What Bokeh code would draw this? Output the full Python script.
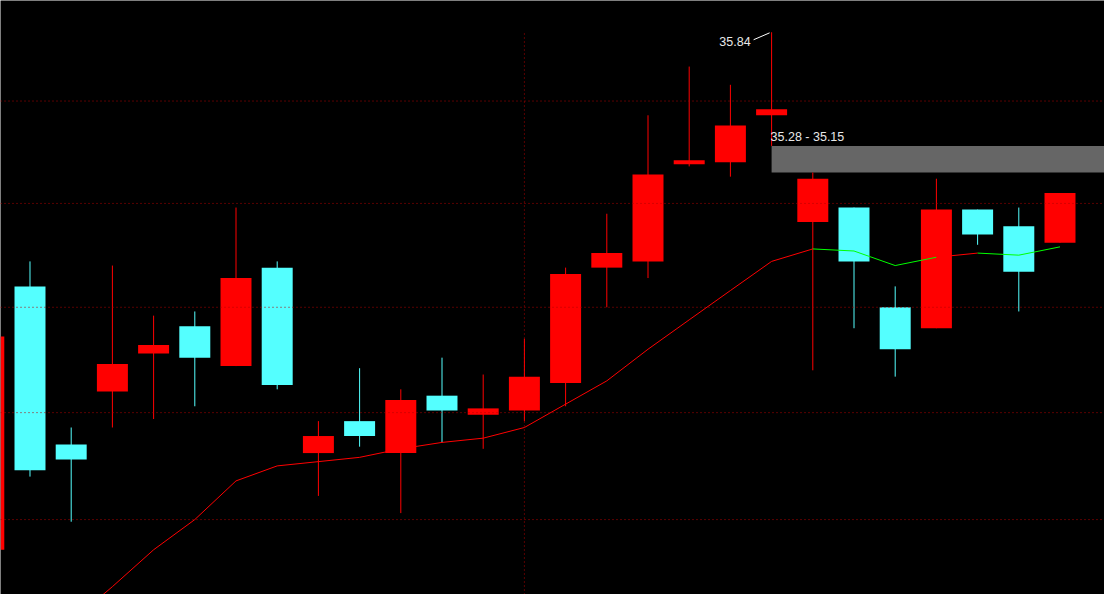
import math
from bokeh.plotting import figure
from bokeh.models import ColumnDataSource, Range1d, Span, LogScale
from bokeh.core.properties import value
from bokeh.embed import file_html
from bokeh.resources import INLINE

# ---- data (one candle per session) ----
opens = [33.36, 34.60, 33.85, 34.10, 34.28, 34.41, 34.22, 34.69, 33.81, 33.96,
         33.81, 34.08, 33.99, 34.01, 34.14, 34.69, 34.72, 35.19, 35.20, 35.43,
         34.91, 34.98, 34.50, 34.40, 34.97, 34.89, 34.81]
highs = [34.36, 34.72, 33.93, 34.70, 34.46, 34.48, 34.98, 34.72, 33.96, 34.21,
         34.11, 34.26, 34.18, 34.35, 34.69, 34.95, 35.43, 35.67, 35.58, 35.84,
         35.15, 34.98, 34.60, 35.12, 34.97, 34.98, 35.05]
lows = [33.36, 33.70, 33.49, 33.93, 33.97, 34.03, 34.22, 34.11, 33.61, 33.84,
        33.53, 33.86, 33.83, 33.96, 34.03, 34.50, 34.64, 35.18, 35.13, 35.28,
        34.20, 34.40, 34.17, 34.40, 34.80, 34.48, 34.81]
closes = [34.36, 33.73, 33.78, 34.23, 34.32, 34.26, 34.64, 34.13, 33.89, 33.89,
          34.06, 34.01, 34.02, 34.17, 34.66, 34.76, 35.14, 35.21, 35.38, 35.46,
          35.12, 34.72, 34.30, 34.97, 34.85, 34.67, 35.05]

# moving average line, starting at candle index 2
ma_start = 2
ma_values = [33.03, 33.19, 33.36, 33.50, 33.68, 33.75, 33.77, 33.79, 33.83, 33.86,
             33.88, 33.93, 34.04, 34.15, 34.30, 34.44, 34.58, 34.72, 34.78, 34.77,
             34.70, 34.74, 34.76, 34.75, 34.79]
# trend state of each MA segment (segment ending at point k, k = 1..)
ma_trend = ["up"] * 18 + ["down", "down", "down", "up", "down", "down"]

grid_levels = [35.5, 35.0, 34.5, 34.0, 33.5]
separator_index = 13

# ---- layout ----
W, H = 1104, 594
X0, X1 = 0.284, 27.080
Y0, Y1 = 33.154, 35.998
PX_X = W / (X1 - X0)
PX_LOG = H / math.log(Y1 / Y0)

UP = "#FF0000"
DOWN = "#54FFFF"
GRID = "#B00000"

n = len(opens)
idx = list(range(n))
colors = [UP if c >= o else DOWN for o, c in zip(opens, closes)]
body_lo = [min(o, c) for o, c in zip(opens, closes)]
body_hi = [max(o, c) for o, c in zip(opens, closes)]

p = figure(width=W, height=H, x_range=Range1d(X0, X1), y_range=Range1d(Y0, Y1),
           x_axis_location=None, y_axis_location=None, toolbar_location=None,
           output_backend="svg", min_border=0, background_fill_color="black",
           border_fill_color="black", outline_line_color=None)
p.y_scale = LogScale()
p.min_border_left = p.min_border_right = p.min_border_top = p.min_border_bottom = 0
p.xgrid.visible = False
p.ygrid.visible = False

for lvl in grid_levels:
    p.add_layout(Span(location=lvl, dimension="width", line_color=GRID,
                      line_dash="1 3", line_width=1))

hi_idx = max(idx, key=lambda i: highs[i])
p.segment(x0=[separator_index], y0=[Y0], x1=[separator_index], y1=[highs[hi_idx]],
          line_color=GRID, line_dash="1 3", line_width=1)

# gap band after the top candle
gap_top = lows[hi_idx]
gap_bottom = highs[hi_idx + 1]
p.quad(left=[hi_idx], right=[X1], bottom=[gap_bottom], top=[gap_top],
       fill_color="#666666", line_color=None)

src = ColumnDataSource(dict(x=idx, o=opens, h=highs, l=lows, c=closes,
                            lo=body_lo, hi=body_hi, color=colors))
p.segment(x0="x", y0="l", x1="x", y1="h", line_color="color", line_width=1, source=src)
p.vbar(x="x", width=0.752, bottom="lo", top="hi", fill_color="color",
       line_color=None, source=src)

# moving average segments
ma_x = list(range(ma_start, ma_start + len(ma_values)))
seg = ColumnDataSource(dict(
    x0=ma_x[:-1], y0=ma_values[:-1], x1=ma_x[1:], y1=ma_values[1:],
    color=["#FF0000" if t == "up" else "#00FF00" for t in ma_trend]))
p.segment(x0="x0", y0="y0", x1="x1", y1="y1", line_color="color",
          line_width=1, source=seg)

# label of the highest high with its leader line
hv = highs[hi_idx]
p.segment(x0=[hi_idx - 18 / PX_X], y0=[hv * math.exp(-7.5 / PX_LOG)],
          x1=[hi_idx - 2 / PX_X], y1=[hv * math.exp(-0.6 / PX_LOG)],
          line_color="#FFFFFF", line_width=1)
p.text(x=[hi_idx], y=[hv], text=[f"{hv:.2f}"], x_offset=-21, y_offset=9,
       text_align="right", text_baseline="alphabetic", text_color="#E8E8E8",
       text_font=value("Liberation Sans"), text_font_size="12.5px")

# gap range label
p.text(x=[hi_idx], y=[gap_top], text=[f"{gap_top:.2f} - {gap_bottom:.2f}"],
       x_offset=-1, y_offset=-9, text_align="left", text_baseline="alphabetic",
       text_color="#E8E8E8", text_font=value("Liberation Sans"),
       text_font_size="12.5px")

open("out.html", "w").write(file_html(p, INLINE))
